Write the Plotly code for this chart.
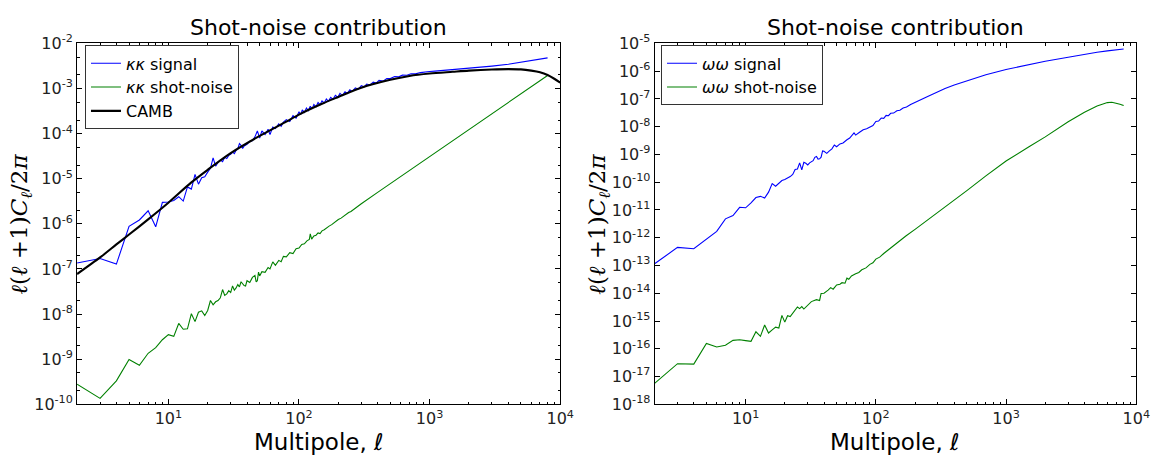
import math
import plotly.graph_objects as go

# ---------------- data: kappa-kappa (left panel) ----------------
kk_sig_ell = [2, 3, 4, 5, 6, 7, 8, 9, 10, 11, 12, 13, 14, 15, 16, 17, 18, 19, 20,
              21, 22, 23, 24, 25, 26, 27, 28, 29, 30, 31, 32, 33, 34, 35, 36, 37, 38,
              40, 42, 44, 46, 48, 50, 52, 55, 58, 60, 63, 66, 70, 73, 76, 80, 85, 90, 95,
              100, 103, 106, 110, 114, 118, 122, 126, 130, 135, 140, 145, 150, 156, 162,
              168, 175, 182, 190, 198, 206, 215, 225, 235, 245, 255, 270, 285, 300, 315,
              330, 350, 370, 390, 410, 440, 470, 500, 540, 580, 620, 670, 720, 780, 850,
              920, 1000, 1100, 1200, 1350, 1500, 1700, 2000, 2500, 3000, 4000, 5000,
              6000, 7000, 8000]
kk_sig_val = [1.35e-7, 1.7e-7, 1.28e-7, 8.8e-7, 1.22e-6, 1.95e-6, 8.6e-7, 3.0e-6, 3.05e-6,
              3.3e-6, 4.0e-6, 3.2e-6, 6.6e-6, 5.9e-6, 1.25e-5, 7.6e-6, 1.05e-5, 1.1e-5, 1.4e-5,
              1.7e-5, 2.9e-5, 1.9e-5, 2.3e-5, 2.6e-5, 2.4e-5, 3.0e-5, 2.8e-5, 3.3e-5, 3.5e-5,
              3.9e-5, 3.6e-5, 4.3e-5, 4.6e-5, 6.0e-5, 5.5e-5, 4.7e-5, 5.3e-5,
              5.8e-5, 6.8e-5, 7.0e-5, 8.5e-5, 1.15e-4, 8.0e-5, 1.15e-4, 9.5e-5, 1.25e-4, 9.5e-5,
              1.4e-4, 1.3e-4, 1.65e-4, 1.45e-4, 1.8e-4, 2.05e-4, 1.85e-4, 2.5e-4, 2.2e-4,
              3.05e-4, 2.65e-4, 3.35e-4, 2.95e-4, 3.7e-4, 3.25e-4, 4.05e-4, 3.55e-4, 4.45e-4,
              3.95e-4, 4.9e-4, 4.4e-4, 5.35e-4, 4.8e-4, 5.85e-4, 5.2e-4, 6.4e-4,
              5.75e-4, 7.05e-4, 6.4e-4, 7.8e-4, 7.0e-4, 8.5e-4, 7.8e-4, 9.35e-4,
              8.6e-4, 1.03e-3, 9.7e-4, 1.16e-3, 1.09e-3, 1.26e-3, 1.2e-3, 1.39e-3, 1.32e-3,
              1.52e-3, 1.46e-3, 1.66e-3, 1.66e-3, 1.84e-3, 1.82e-3, 1.98e-3, 1.97e-3, 2.12e-3,
              2.12e-3, 2.26e-3, 2.28e-3, 2.38e-3, 2.43e-3, 2.48e-3, 2.55e-3, 2.6e-3, 2.68e-3,
              2.8e-3, 2.95e-3, 3.15e-3, 3.45e-3, 3.8e-3, 4.1e-3, 4.4e-3, 4.8e-3]

kk_sn_ell = [2, 3, 4, 5, 6, 7, 8, 9, 10, 11, 12, 13, 14, 15, 16, 17, 18, 19, 20,
             21, 22, 23, 24, 25, 26, 27, 28, 29, 30, 31, 32, 33, 34, 35, 36, 37, 38, 39,
             40, 42, 44, 46, 47, 48, 49, 50, 52, 55, 58, 60, 63, 66, 70, 73, 76, 80, 85,
             90, 95, 100, 105, 110, 115, 120, 122, 125, 130, 135, 140, 145, 150, 156, 162,
             170, 178, 185, 193, 200, 210, 220, 230, 240, 250, 262, 275, 290, 300, 400,
             500, 700, 1000, 1500, 2000, 3000, 4000, 5000, 6000, 7000, 8000]
kk_sn_val = [2.8e-10, 1.35e-10, 3.3e-10, 9.8e-10, 7.3e-10, 1.35e-9, 1.8e-9, 2.7e-9, 3.5e-9,
             3.2e-9, 6.2e-9, 4.6e-9, 4.7e-9, 1.02e-8, 6.8e-9, 1.1e-8, 1.18e-8, 9.3e-9, 1.2e-8,
             2.0e-8, 1.6e-8, 1.87e-8, 2.0e-8, 2.3e-8, 3.5e-8, 2.6e-8, 2.8e-8, 3.3e-8, 3.0e-8,
             4.2e-8, 3.4e-8, 3.8e-8, 4.5e-8, 4.0e-8, 5.2e-8, 4.6e-8, 4.3e-8, 4.2e-8,
             5.5e-8, 5.0e-8, 6.5e-8, 7.2e-8, 5.2e-8, 5.5e-8, 8.5e-8, 7.0e-8, 8.7e-8, 8.4e-8,
             1.08e-7, 1.0e-7, 1.44e-7, 1.2e-7, 1.55e-7, 1.45e-7, 1.9e-7, 1.85e-7, 2.3e-7,
             2.2e-7, 2.8e-7, 2.9e-7, 3.5e-7, 3.6e-7, 4.2e-7, 4.5e-7, 6.0e-7, 4.6e-7, 5.4e-7,
             5.6e-7, 6.3e-7, 6.1e-7, 7.0e-7, 7.4e-7, 8.1e-7, 8.9e-7, 9.6e-7, 1.06e-6, 1.13e-6,
             1.25e-6, 1.34e-6, 1.5e-6, 1.6e-6, 1.78e-6, 1.88e-6, 2.1e-6, 2.3e-6, 2.55e-6,
             2.8e-6, 5.0e-6, 7.8e-6, 1.5e-5, 3.1e-5,
             7.0e-5, 1.24e-4, 2.8e-4, 5.0e-4, 7.8e-4, 1.12e-3, 1.5e-3, 1.95e-3]

camb_ell = [2, 3, 4, 5, 7, 10, 15, 20, 30, 50, 80, 100, 150, 200, 300, 500, 700,
            1000, 1500, 2000, 3000, 4000, 5000, 6000, 7000, 8000, 9000, 10000]
camb_val = [7.7e-8, 1.8e-7, 3.5e-7, 5.8e-7, 1.26e-6, 2.95e-6, 8.3e-6, 1.58e-5, 3.7e-5,
            8.9e-5, 1.85e-4, 2.65e-4, 4.6e-4, 6.5e-4, 1.04e-3, 1.56e-3, 1.9e-3,
            2.15e-3, 2.35e-3, 2.5e-3, 2.65e-3, 2.7e-3, 2.66e-3, 2.5e-3, 2.3e-3, 2.0e-3,
            1.65e-3, 1.35e-3]

# ---------------- data: omega-omega (right panel) ----------------
ww_sig_ell = [2, 3, 4, 5, 6, 7, 8, 9, 10, 11, 12, 13, 14, 15, 16, 17, 18, 19, 20,
              21, 22, 23, 24, 25, 26, 27, 28, 29, 30, 31, 32, 33, 34, 35, 36, 37, 38, 39,
              40, 42, 44, 46, 48, 50, 53, 56, 60, 63, 68, 70, 75, 80, 85, 90, 95,
              100, 105, 110, 115, 120, 125, 130, 137, 145, 153, 162, 172, 185, 200, 215,
              230, 250, 270, 300, 340, 400, 500, 700,
              1000, 1500, 2000, 3000, 4000, 5000, 6000, 7000, 8000]
ww_sig_val = [1.15e-13, 4.5e-13, 4.0e-13, 8.7e-13, 1.7e-12, 4.8e-12, 6.3e-12, 1.25e-11,
              1.2e-11, 1.8e-11, 2.8e-11, 3.1e-11, 2.7e-11, 4.4e-11, 9.0e-11, 7.2e-11, 9.0e-11,
              1.15e-10, 1.25e-10, 1.4e-10, 1.6e-10, 1.9e-10, 2.9e-10, 3.0e-10, 5.0e-10,
              2.8e-10, 5.2e-10, 4.8e-10, 4.2e-10, 5.0e-10, 5.5e-10, 6.0e-10, 7.9e-10, 8.5e-10,
              6.8e-10, 7.0e-10, 8.0e-10, 1.35e-9,
              1.3e-9, 1.1e-9, 1.35e-9, 1.6e-9, 2.2e-9, 1.9e-9, 2.4e-9, 2.6e-9, 3.4e-9, 3.9e-9,
              6.0e-9, 5.0e-9, 6.3e-9, 7.8e-9, 8.5e-9, 1.0e-8, 1.1e-8,
              1.55e-8, 1.6e-8, 2.05e-8, 2.0e-8, 2.55e-8, 2.5e-8, 3.05e-8, 3.1e-8, 3.75e-8,
              3.9e-8, 4.7e-8, 5.1e-8, 6.3e-8, 7.6e-8, 8.8e-8, 1.03e-7, 1.22e-7, 1.45e-7,
              1.85e-7, 2.4e-7, 3.2e-7, 4.6e-7, 7.5e-7,
              1.15e-6, 1.75e-6, 2.3e-6, 3.2e-6, 4.1e-6, 4.8e-6, 5.4e-6, 5.9e-6, 6.3e-6]

ww_sn_ell = [2, 3, 4, 5, 6, 7, 8, 9, 10, 11, 12, 13, 14, 15, 16, 17, 18, 19, 20,
             21, 22, 23, 24, 25, 26, 27, 28, 30, 32, 35, 37, 38, 40, 43, 45, 47, 50, 53,
             55, 58, 60, 62, 65, 70, 74, 78, 84, 90, 95, 100, 107, 115, 124, 135, 150, 170,
             200, 250, 300, 400, 500, 700, 1000, 1500, 2000, 3000, 4000, 5000, 5500, 6000,
             6500, 7000, 7500, 8000]
ww_sn_val = [5.7e-18, 2.9e-17, 2.8e-17, 1.55e-16, 1.16e-16, 1.33e-16, 2.0e-16, 2.1e-16,
             1.96e-16, 1.85e-16, 4.1e-16, 2.8e-16, 7.2e-16, 3.7e-16, 4.8e-16, 6.0e-16, 5.6e-16,
             1.6e-15, 9.1e-16, 1.55e-15, 1.45e-15, 1.9e-15, 2.5e-15, 3.2e-15, 2.8e-15, 3.3e-15,
             2.7e-15, 3.6e-15, 5.0e-15, 5.9e-15, 5.5e-15, 9.8e-15, 1.0e-14, 1.3e-14, 1.6e-14,
             1.4e-14, 2.0e-14, 2.1e-14, 2.4e-14, 2.3e-14, 3.5e-14, 3.2e-14, 4.2e-14, 5.0e-14,
             5.6e-14, 7.0e-14, 8.2e-14, 1.1e-13, 1.25e-13, 1.7e-13, 2.0e-13, 2.7e-13, 3.6e-13,
             4.8e-13, 7.5e-13, 1.15e-12, 2.0e-12, 4.3e-12, 8.5e-12, 2.3e-11, 5.0e-11, 1.7e-10,
             5.8e-10, 1.9e-9, 4.3e-9, 1.5e-8, 3.3e-8, 5.6e-8, 6.7e-8, 7.4e-8, 7.6e-8,
             7.2e-8, 6.5e-8, 5.8e-8]

# ---------------- axis tick labels ----------------
x_major = [10, 100, 1000, 10000]
x_major_text = ["10<sup>1</sup>", "10<sup>2</sup>", "10<sup>3</sup>", "10<sup>4</sup>"]
y_left_exp = list(range(-10, -1))
y_right_exp = list(range(-18, -4))

BLUE = "#0000ff"
GREEN = "#008000"
W, H = 1173, 462

fig = go.Figure()

fig.add_trace(go.Scatter(x=kk_sig_ell, y=kk_sig_val, mode="lines", name="<i>κκ</i> signal",
                         line=dict(color=BLUE, width=1.1), xaxis="x", yaxis="y",
                         legend="legend"))
fig.add_trace(go.Scatter(x=kk_sn_ell, y=kk_sn_val, mode="lines", name="<i>κκ</i> shot-noise",
                         line=dict(color=GREEN, width=1.1), xaxis="x", yaxis="y",
                         legend="legend"))
fig.add_trace(go.Scatter(x=camb_ell, y=camb_val, mode="lines", name="CAMB",
                         line=dict(color="black", width=2.1, shape="spline", smoothing=0.8),
                         xaxis="x", yaxis="y", legend="legend"))

fig.add_trace(go.Scatter(x=ww_sig_ell, y=ww_sig_val, mode="lines", name="<i>ωω</i> signal",
                         line=dict(color=BLUE, width=1.1), xaxis="x2", yaxis="y2",
                         legend="legend2"))
fig.add_trace(go.Scatter(x=ww_sn_ell, y=ww_sn_val, mode="lines", name="<i>ωω</i> shot-noise",
                         line=dict(color=GREEN, width=1.1), xaxis="x2", yaxis="y2",
                         legend="legend2"))

minor_x = [m * 10 ** d for d in range(0, 4) for m in range(2, 10) if m * 10 ** d >= 2]
minor_y_left = [m * 10.0 ** e for e in range(-10, -2) for m in (2, 5)]

tickfont = dict(family="DejaVu Sans", size=16, color="#222222")


def frame(**kw):
    base = dict(type="log", showgrid=False, zeroline=False, showline=True,
                linecolor="black", linewidth=1, mirror="allticks", ticks="inside",
                ticklen=5, tickwidth=1, tickcolor="black", tickfont=tickfont)
    base.update(kw)
    return base


xdom_l = [78 / W, 567 / W]
xdom_r = [662.5 / W, 1150 / W]
ydom = [1 - 412 / H, 1 - 34 / H]

legend_style = dict(xanchor="left", yanchor="top", bordercolor="#333333", borderwidth=1,
                    bgcolor="white", font=dict(family="DejaVu Sans", size=16, color="black"),
                    tracegroupgap=0, itemwidth=30)

fig.update_layout(
    width=W, height=H,
    margin=dict(l=0, r=0, t=0, b=0),
    paper_bgcolor="white", plot_bgcolor="white",
    xaxis=frame(domain=xdom_l, anchor="y", range=[math.log10(2), 4],
                tickmode="array", tickvals=x_major, ticktext=x_major_text,
                minor=dict(ticks="inside", ticklen=2.5, tickcolor="black",
                           tickmode="array", tickvals=minor_x)),
    yaxis=frame(domain=ydom, anchor="x", range=[-10, -2],
                tickmode="array", tickvals=[10.0 ** e for e in y_left_exp],
                ticktext=["10<sup>%d</sup>" % e for e in y_left_exp],
                minor=dict(ticks="inside", ticklen=2.5, tickcolor="black",
                           tickmode="array", tickvals=minor_y_left)),
    xaxis2=frame(domain=xdom_r, anchor="y2", range=[math.log10(2), 4],
                 tickmode="array", tickvals=x_major, ticktext=x_major_text,
                 minor=dict(ticks="inside", ticklen=2.5, tickcolor="black",
                            tickmode="array", tickvals=minor_x)),
    yaxis2=frame(domain=ydom, anchor="x2", range=[-18, -5],
                 tickmode="array", tickvals=[10.0 ** e for e in y_right_exp],
                 ticktext=["10<sup>%d</sup>" % e for e in y_right_exp]),
    legend=dict(x=86 / W, y=1 - 36 / H, **legend_style),
    legend2=dict(x=669 / W, y=1 - 36 / H, **legend_style),
    showlegend=True,
)

title_font = dict(family="DejaVu Sans", size=22, color="black")
xlabel_font = dict(family="DejaVu Sans", size=23, color="black")
ylabel_font = dict(family="DejaVu Serif", size=23, color="black")
ylabel = "<i>ℓ</i>(<i>ℓ</i> +1)<i>C</i><sub><i>ℓ</i></sub>/2<i>π</i>"

for xc, yl_x in (((78 + 567) / 2, 21), ((662.5 + 1150) / 2, 606)):
    fig.add_annotation(text="Shot-noise contribution", x=xc / W, y=1 - 17 / H,
                       xref="paper", yref="paper", showarrow=False, font=title_font,
                       xanchor="center", yanchor="middle")
    fig.add_annotation(text="Multipole, <i>ℓ</i>", x=xc / W, y=1 - 452 / H,
                       xref="paper", yref="paper", showarrow=False, font=xlabel_font,
                       xanchor="center", yanchor="middle")
    fig.add_annotation(text=ylabel, x=yl_x / W, y=1 - 223 / H, textangle=-90,
                       xref="paper", yref="paper", showarrow=False, font=ylabel_font,
                       xanchor="center", yanchor="middle")

fig.write_html("out.html")
